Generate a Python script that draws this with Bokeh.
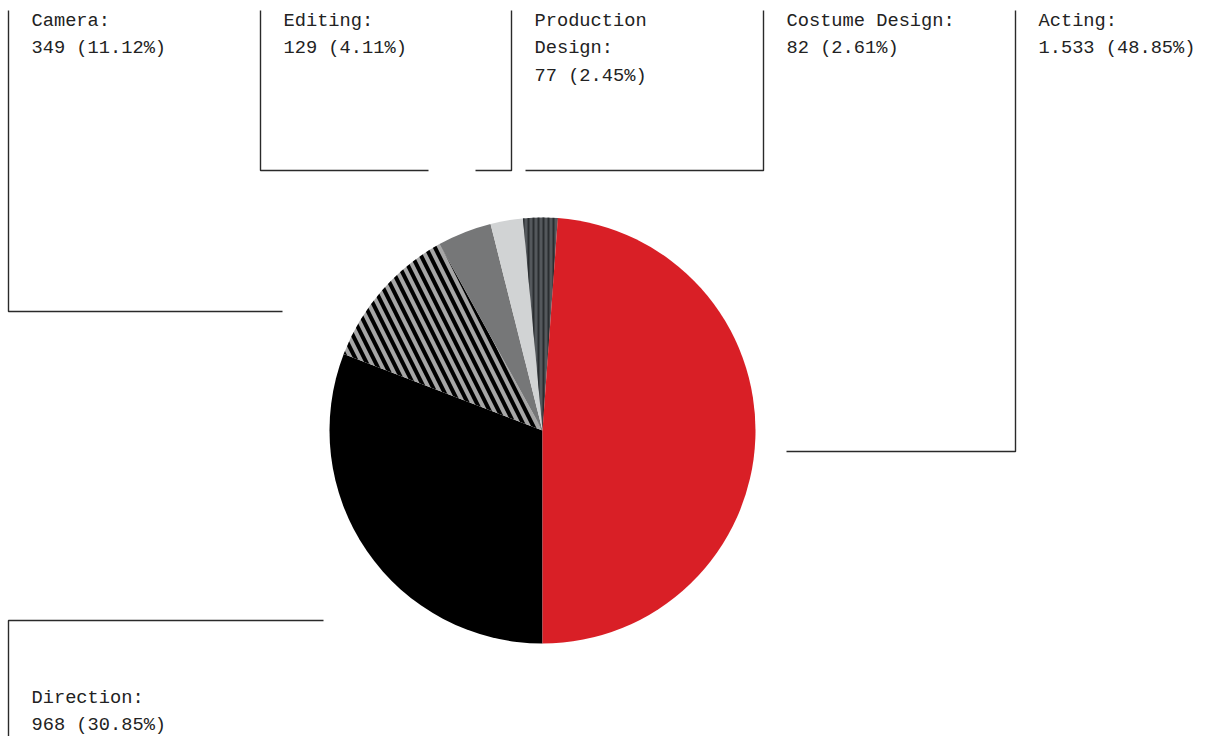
from bokeh.plotting import figure
from bokeh.models import Range1d
from bokeh.core.properties import value
from bokeh.embed import file_html
from bokeh.resources import INLINE
import math

# ---- data (clockwise from 6 o'clock) ----
categories = ["Direction", "Camera", "Editing", "Production Design", "Costume Design", "Acting"]
counts = [968, 349, 129, 77, 82, 1533]
label_lines = [["Direction:"], ["Camera:"], ["Editing:"], ["Production", "Design:"], ["Costume Design:"], ["Acting:"]]

fills = ["#000000", "#a6a6a6", "#767778", "#d1d3d4", "#54585c", "#d91f26"]
hatches = [" ", "\\", " ", " ", "|", " "]
hatch_cols = ["#000000", "#000000", "#000000", "#000000", "#2a2d30", "#000000"]
hatch_scales = [10, 18, 10, 10, 5, 10]
hatch_weights = [1, 4, 1, 1, 2, 1]

W, H = 1214, 736
CX, CY, R = 542, 430, 213

def fmt_int(n):
    return f"{n:,}".replace(",", ".")

total = sum(counts)
pct = [c / total * 100 for c in counts]

starts, ends = [], []
cum = 180.0
for pc in pct:
    a0 = cum
    a1 = cum + pc * 3.6
    starts.append(math.radians(90 - a0))
    ends.append(math.radians(90 - a1))
    cum = a1

p = figure(width=W, height=H, output_backend="svg", toolbar_location=None,
           x_range=Range1d(0, W), y_range=Range1d(0, H), min_border=0)
p.axis.visible = False
p.grid.visible = False
p.outline_line_color = None
p.background_fill_color = "white"
p.border_fill_color = "white"

def Y(y):
    return H - y

for i in range(len(counts)):
    p.wedge(x=[CX], y=[Y(CY)], radius=R, start_angle=[starts[i]], end_angle=[ends[i]],
            direction="clock", fill_color=fills[i], line_color=None,
            hatch_pattern=hatches[i], hatch_color=hatch_cols[i],
            hatch_scale=hatch_scales[i], hatch_weight=hatch_weights[i])

# ---- leader lines and labels (layout) ----
leaders = {
    "Camera": ([8, 8, 282], [10, 311, 311], 8, 20),
    "Editing": ([260, 260, 428], [10, 170, 170], 260, 20),
    "Production Design": ([511, 511, 475], [10, 170, 170], 511, 20),
    "Costume Design": ([763, 763, 525], [10, 170, 170], 763, 20),
    "Acting": ([1015, 1015, 786], [10, 451, 451], 1015, 20),
    "Direction": ([323, 8, 8], [620, 620, 740], 8, 697),
}
LH = 27.5
for k, cat in enumerate(categories):
    xs, ys, lx, by = leaders[cat]
    p.line(xs, [Y(v) for v in ys], line_color="#2a2a2a", line_width=1.4)
    lines = label_lines[k] + [f"{fmt_int(counts[k])} ({pct[k]:.2f}%)"]
    p.text(x=[lx + 23] * len(lines), y=[Y(by + j * LH) for j in range(len(lines))], text=lines,
           text_font=value("Liberation Mono"), text_font_size=value("18.7px"),
           text_color="#222222", text_baseline="alphabetic", text_align="left")

open("out.html", "w").write(file_html(p, INLINE))
